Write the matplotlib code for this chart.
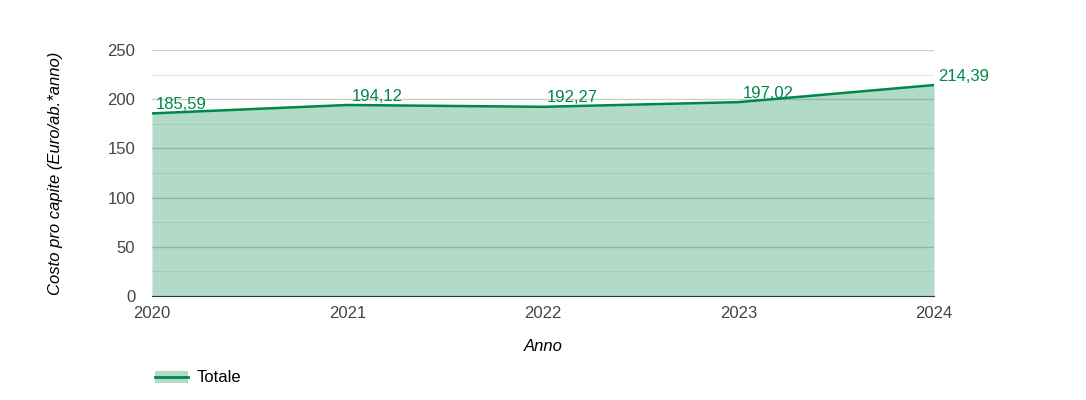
import numpy as np
import matplotlib.pyplot as plt
from matplotlib.patches import Patch
from matplotlib.lines import Line2D
from matplotlib.legend_handler import HandlerTuple

years = [2020, 2021, 2022, 2023, 2024]
totale = [185.59, 194.12, 192.27, 197.02, 214.39]
green = "#00874a"

plt.rcParams["font.family"] = ["Liberation Sans", "DejaVu Sans"]

fig = plt.figure(figsize=(10.86, 4.0), dpi=100)
ax = fig.add_axes([152 / 1086, 1 - 296 / 400, (934 - 152) / 1086, (296 - 50) / 400])

ax.set_xlim(years[0], years[-1])
ax.set_ylim(0, 250)
ax.set_yticks(np.arange(0, 251, 50))
ax.set_yticks(np.arange(25, 250, 50), minor=True)
ax.set_xticks(years)
ax.grid(axis="y", which="major", color="#cccccc", linewidth=1)
ax.grid(axis="y", which="minor", color="#ebebeb", linewidth=1)
ax.set_axisbelow(True)

ax.fill_between(years, totale, 0, color=green, alpha=0.3, linewidth=0, zorder=2)
ax.plot(years, totale, color=green, linewidth=1.8, zorder=3)

for x, y in zip(years, totale):
    ax.annotate(f"{y:.2f}".replace(".", ","), (x, y), xytext=(3, 1),
                textcoords="offset points", color=green, fontsize=12,
                ha="left", va="bottom", zorder=4)

for s in ["top", "right", "left"]:
    ax.spines[s].set_visible(False)
ax.spines["bottom"].set_color("#333333")
ax.tick_params(axis="both", which="both", length=0, labelsize=12, colors="#444444")
ax.tick_params(axis="y", pad=12)
ax.tick_params(axis="x", pad=7)

ax.set_xlabel("Anno", style="italic", fontsize=12, labelpad=13)
ax.set_ylabel("Costo pro capite (Euro/ab.*anno)", style="italic", fontsize=12, labelpad=32)

handle = (Patch(facecolor=green, alpha=0.3, linewidth=0), Line2D([], [], color=green, linewidth=2))
fig.legend([handle], ["Totale"], handler_map={tuple: HandlerTuple(ndivide=1)},
           loc="center left", bbox_to_anchor=(140 / 1086, 1 - 378 / 400),
           frameon=False, fontsize=12, handlelength=2.0, handletextpad=0.5)

fig.savefig("out.png", dpi=100)
